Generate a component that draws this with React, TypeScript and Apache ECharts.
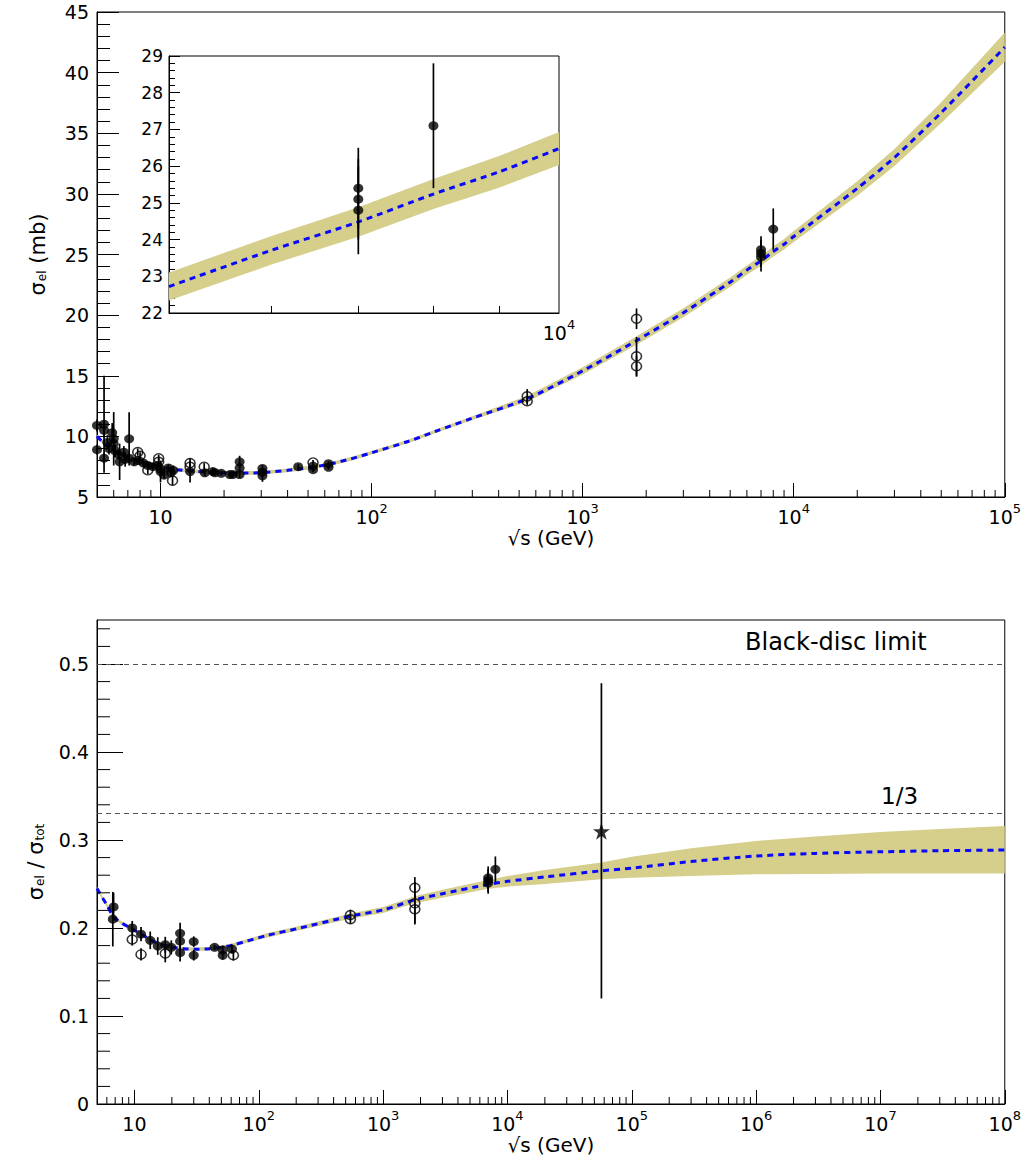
import React, { useEffect, useRef } from "react";
import * as echarts from "echarts";

// ---------------- Top panel: sigma_el (mb) vs sqrt(s) (GeV) ----------------
const fitSqrtS = [5, 5.5, 6, 7, 8, 10, 12, 15, 20, 25, 30, 40, 50, 63, 80, 100, 150, 200, 300, 546, 1000, 1800, 3000, 5000, 6000, 7000, 8000, 9000, 10000, 20000, 30000, 50000, 100000];
const fitSigma = [10.0, 9.3, 8.8, 8.3, 7.95, 7.5, 7.25, 7.1, 7.0, 6.98, 7.0, 7.2, 7.4, 7.7, 8.15, 8.65, 9.6, 10.4, 11.5, 13.1, 15.4, 17.9, 20.2, 22.72, 23.71, 24.48, 25.24, 25.85, 26.48, 30.45, 33.0, 36.7, 42.1];
const fitSigmaLow = [9.85, 9.15, 8.65, 8.15, 7.8, 7.35, 7.1, 6.95, 6.85, 6.83, 6.85, 7.05, 7.25, 7.55, 8.0, 8.5, 9.45, 10.25, 11.35, 12.85, 15.1, 17.55, 19.83, 22.34, 23.32, 24.08, 24.83, 25.42, 26.03, 29.85, 32.3, 35.85, 40.9];
const fitSigmaHigh = [10.15, 9.45, 8.95, 8.45, 8.1, 7.65, 7.4, 7.25, 7.15, 7.13, 7.15, 7.35, 7.55, 7.85, 8.3, 8.8, 9.75, 10.55, 11.65, 13.35, 15.7, 18.25, 20.57, 23.1, 24.1, 24.88, 25.65, 26.28, 26.93, 31.05, 33.7, 37.55, 43.3];

// filled markers (pp)
const topFullS = [5.0, 5.0, 5.4, 5.4, 5.4, 5.6, 5.7, 5.9, 6.0, 6.0, 6.1, 6.3, 6.4, 6.7, 6.8, 7.1, 7.1, 7.5, 7.9, 8.3, 8.7, 9.2, 9.7, 10.0, 10.0, 10.4, 10.9, 11.2, 11.5, 13.8, 16.2, 17.7, 18.1, 19.4, 21.3, 22.0, 23.7, 23.7, 23.7, 30.4, 30.4, 30.4, 44.9, 52.8, 52.8, 62.5, 62.5, 7000, 7000, 7000, 8000];
const topFullSigma = [10.9, 8.9, 11.0, 10.5, 8.2, 9.5, 9.0, 10.3, 9.8, 9.4, 8.8, 8.5, 7.9, 8.7, 8.1, 9.8, 8.2, 7.9, 8.0, 7.8, 7.6, 7.5, 7.6, 7.3, 7.1, 6.8, 7.4, 7.0, 7.2, 7.1, 7.0, 7.1, 7.0, 6.95, 6.85, 6.85, 7.9, 7.4, 6.85, 7.35, 7.05, 6.75, 7.5, 7.55, 7.25, 7.75, 7.45, 25.4, 25.1, 24.8, 27.1];
const topFullErr = [0.5, 0.4, 4.0, 0.6, 0.4, 0.6, 0.5, 0.8, 2.2, 0.5, 0.5, 0.4, 1.5, 0.5, 0.6, 2.2, 0.4, 0.3, 0.3, 0.3, 0.3, 0.3, 0.3, 0.3, 0.9, 0.3, 0.3, 0.3, 0.4, 0.9, 0.3, 0.3, 0.25, 0.2, 0.2, 0.2, 0.5, 0.4, 0.3, 0.3, 0.3, 0.5, 0.2, 0.2, 0.2, 0.2, 0.2, 1.1, 1.1, 1.2, 1.7];
// open markers
const topOpenS = [7.8, 8.0, 8.7, 9.8, 9.8, 11.4, 13.8, 13.8, 16.1, 52.8, 546, 546, 1800, 1800, 1800];
const topOpenSigma = [8.7, 8.4, 7.2, 8.2, 7.9, 6.35, 7.8, 7.5, 7.5, 7.85, 13.3, 12.9, 19.7, 16.6, 15.79];
const topOpenErr = [0.3, 0.3, 0.3, 0.3, 0.3, 0.4, 0.4, 0.3, 0.3, 0.2, 0.6, 0.3, 0.85, 1.6, 0.87];

const topMajorTicks = [10, 100, 1000, 10000, 100000];
const insetMinorTicks = [6000, 7000, 8000, 9000];
const insetMajorTicks = [10000];

// ---------------- Bottom panel: sigma_el / sigma_tot ----------------
const ratioSqrtS = [5, 6, 6.5, 7, 8, 9.4, 10, 12, 13.4, 15, 18.8, 25, 30, 40, 50, 63, 120, 200, 546, 1000, 1800, 3000, 7000, 10000, 20000, 57000, 100000, 300000, 1e6, 3e6, 1e7, 3e7, 1e8];
const ratioFit = [0.245, 0.226, 0.217, 0.211, 0.205, 0.1997, 0.1975, 0.191, 0.1864, 0.1835, 0.1788, 0.1765, 0.1758, 0.1765, 0.178, 0.181, 0.192, 0.199, 0.2135, 0.2205, 0.232, 0.239, 0.2495, 0.253, 0.258, 0.265, 0.268, 0.2755, 0.2818, 0.2848, 0.2866, 0.2878, 0.2886];
const ratioLow = [0.243, 0.224, 0.215, 0.209, 0.203, 0.1977, 0.1955, 0.189, 0.1844, 0.1815, 0.1768, 0.1745, 0.1738, 0.1745, 0.176, 0.179, 0.1895, 0.1965, 0.2105, 0.217, 0.228, 0.2345, 0.2445, 0.247, 0.250, 0.2555, 0.257, 0.259, 0.261, 0.2615, 0.262, 0.262, 0.262];
const ratioHigh = [0.247, 0.228, 0.219, 0.213, 0.207, 0.2017, 0.1995, 0.193, 0.1884, 0.1855, 0.1808, 0.1785, 0.1778, 0.1785, 0.18, 0.183, 0.1945, 0.2015, 0.2165, 0.224, 0.236, 0.2435, 0.2545, 0.259, 0.266, 0.2745, 0.281, 0.2905, 0.299, 0.304, 0.309, 0.3125, 0.316];

const botFullS = [6.8, 6.7, 9.6, 11.3, 13.4, 15.4, 17.7, 19.8, 23.3, 23.3, 23.3, 30.0, 30.0, 44.1, 51.3, 51.3, 60.9, 7000, 7000, 7000, 8000];
const botFullR = [0.224, 0.210, 0.200, 0.193, 0.186, 0.1795, 0.181, 0.178, 0.194, 0.185, 0.172, 0.1845, 0.169, 0.178, 0.175, 0.169, 0.176, 0.257, 0.254, 0.251, 0.2667];
const botFullErr = [0.016, 0.031, 0.008, 0.008, 0.01, 0.01, 0.009, 0.008, 0.012, 0.01, 0.01, 0.006, 0.006, 0.003, 0.005, 0.005, 0.005, 0.013, 0.013, 0.012, 0.0146];
const botOpenS = [9.6, 11.3, 17.7, 62.5, 546, 546, 1800, 1800, 1800];
const botOpenR = [0.187, 0.170, 0.171, 0.169, 0.2148, 0.210, 0.2458, 0.228, 0.2212];
const botOpenErr = [0.007, 0.007, 0.01, 0.006, 0.006, 0.005, 0.012, 0.024, 0.016];
// Auger point (star) with asymmetric errors
const starS = [57000];
const starR = [0.31];
const starErrLow = [0.19];
const starErrHigh = [0.168];

const botMajorTicks = [10, 100, 1000, 10000, 100000, 1e6, 1e7, 1e8];
const botMinorYTicks = [0.02, 0.04, 0.06, 0.08, 0.12, 0.14, 0.16, 0.18, 0.22, 0.24, 0.26, 0.28, 0.32, 0.34, 0.36, 0.38, 0.42, 0.44, 0.46, 0.48, 0.52, 0.54];
const refLines = [0.5, 1 / 3];
const refLabels = ["Black-disc limit", "1/3"];

// ---------------- styling ----------------
const FONT = "'DejaVu Sans', 'Liberation Sans', Arial, sans-serif";
const BAND = "#d5cf8b";
const BLUE = "#0808ff";
const LG = (v: number) => Math.log10(v);

function minorLogTicks(lo: number, hi: number): number[] {
  const out: number[] = [];
  for (let e = 0; e <= 8; e++) {
    for (let k = 2; k <= 9; k++) {
      const v = k * Math.pow(10, e);
      if (v > lo && v < hi) out.push(v);
    }
  }
  return out;
}

const richLabel = {
  b: { fontFamily: FONT, fontSize: 19, color: "#000", verticalAlign: "bottom", lineHeight: 24 },
  sup: { fontFamily: FONT, fontSize: 13, color: "#000", verticalAlign: "top", lineHeight: 24 },
};
const powLabel = (v: number) => {
  const e = Math.round(v);
  return e === 1 ? "{b|10}" : `{b|10}{sup|${e}}`;
};

const errItems = (xs: number[], ys: number[], lo: number[], hi: number[], xmin = 0, xmax = Infinity) =>
  xs
    .map((x, i) => [LG(x), ys[i] - lo[i], ys[i] + hi[i]])
    .filter((d, i) => xs[i] >= xmin && xs[i] <= xmax);

const pts = (xs: number[], ys: number[], xmin = 0, xmax = Infinity) =>
  xs.map((x, i) => [LG(x), ys[i]]).filter((d, i) => xs[i] >= xmin && xs[i] <= xmax);

const errRender = (params: any, api: any) => {
  const x = api.value(0);
  const p1 = api.coord([x, api.value(1)]);
  const p2 = api.coord([x, api.value(2)]);
  return {
    type: "line",
    shape: { x1: p1[0], y1: p1[1], x2: p2[0], y2: p2[1] },
    style: { stroke: "#000", lineWidth: 1.7 },
  };
};

const bandRender = (xs: number[], lo: number[], hi: number[]) => (params: any, api: any) => {
  if (params.dataIndex !== 0) return null;
  const poly: number[][] = [];
  for (let i = 0; i < xs.length; i++) poly.push(api.coord([LG(xs[i]), hi[i]]));
  for (let i = xs.length - 1; i >= 0; i--) poly.push(api.coord([LG(xs[i]), lo[i]]));
  return {
    type: "polygon",
    shape: { points: poly },
    style: { fill: BAND, stroke: "none" },
  };
};

// minor tick marks drawn through the axes' own scales
const tickRender = (dir: "x" | "y", len: number) => (params: any, api: any) => {
  const p = api.coord([api.value(0), api.value(1)]);
  const shape =
    dir === "x"
      ? { x1: p[0], y1: p[1], x2: p[0], y2: p[1] - len }
      : { x1: p[0], y1: p[1], x2: p[0] + len, y2: p[1] };
  return { type: "line", shape, style: { stroke: "#000", lineWidth: 1 } };
};

function filterRange(xs: number[], arrs: number[][], a: number, b: number) {
  const idx = xs.map((x, i) => i).filter((i) => xs[i] >= a && xs[i] <= b);
  return [idx.map((i) => xs[i]), ...arrs.map((arr) => idx.map((i) => arr[i]))];
}

function buildOption() {
  const black = { color: "#000" };
  const axisLine = { show: true, onZero: false, lineStyle: { color: "#000", width: 1 } };
  const noSplit = { show: false };

  const [inS, inFit, inLow, inHigh] = filterRange(fitSqrtS, [fitSigma, fitSigmaLow, fitSigmaHigh], 5000, 10000);

  const xMajor = (grid: number, min: number, max: number, ticks: number[], extra: any = {}) => ({
    type: "value",
    gridIndex: grid,
    position: "bottom",
    min: LG(min),
    max: LG(max),
    axisLine,
    splitLine: noSplit,
    axisTick: { show: true, inside: true, length: 14, customValues: ticks.map(LG), lineStyle: { color: "#000", width: 1 } },
    axisLabel: { show: true, customValues: ticks.map(LG), formatter: powLabel, rich: richLabel, margin: 5, color: "#000" },
    ...extra,
  });

  const xTitle = {
    name: "√s (GeV)",
    nameLocation: "middle",
    nameGap: 31,
    nameTextStyle: { fontFamily: FONT, fontSize: 20, color: "#000" },
  };
  const yRich = {
    a: { fontFamily: FONT, fontSize: 21, color: "#000", verticalAlign: "middle" },
    s: { fontFamily: FONT, fontSize: 12, color: "#000", verticalAlign: "bottom", padding: [0, 0, 0, 1] },
  };

  const option: any = {
    animation: false,
    backgroundColor: "#fff",
    textStyle: { fontFamily: FONT },
    grid: [
      { left: 97, top: 12, width: 908, height: 485, show: true, borderColor: "#000", borderWidth: 1, backgroundColor: "transparent" },
      { left: 169, top: 56, width: 390, height: 257, show: true, borderColor: "#000", borderWidth: 1, backgroundColor: "#fff" },
      { left: 97, top: 620, width: 908, height: 484, show: true, borderColor: "#000", borderWidth: 1, backgroundColor: "transparent" },
    ],
    xAxis: [
      xMajor(0, 5, 1e5, topMajorTicks, xTitle),
      {
        type: "value",
        gridIndex: 1,
        position: "bottom",
        min: LG(5000),
        max: LG(10000),
        axisLine,
        splitLine: noSplit,
        axisTick: { show: true, inside: true, length: 7, customValues: insetMinorTicks.map(LG), lineStyle: { color: "#000" } },
        axisLabel: { show: true, customValues: insetMajorTicks.map(LG), formatter: powLabel, rich: richLabel, margin: 5 },
      },
      xMajor(2, 5, 1e8, botMajorTicks, xTitle),
    ],
    yAxis: [
      {
        type: "value",
        gridIndex: 0,
        position: "left",
        min: 5,
        max: 45,
        interval: 5,
        axisLine,
        splitLine: noSplit,
        axisTick: { show: true, inside: true, length: 22, lineStyle: black },
        minorTick: { show: true, splitNumber: 5, length: 13, lineStyle: black },
        minorSplitLine: { show: false },
        axisLabel: { fontFamily: FONT, fontSize: 19, color: "#000", margin: 8 },
        name: "{a|σ}{s|el}{a| (mb)}",
        nameLocation: "middle",
        nameRotate: 90,
        nameGap: 49,
        nameTextStyle: { rich: yRich },
      },
      {
        type: "value",
        gridIndex: 1,
        position: "left",
        min: 22,
        max: 29,
        interval: 1,
        axisLine,
        splitLine: noSplit,
        axisTick: { show: true, inside: true, length: 11, lineStyle: black },
        minorTick: { show: true, splitNumber: 5, length: 6, lineStyle: black },
        axisLabel: { fontFamily: FONT, fontSize: 17, color: "#000", margin: 6 },
      },
      {
        type: "value",
        gridIndex: 2,
        position: "left",
        min: 0,
        max: 0.55,
        interval: 0.1,
        axisLine,
        splitLine: noSplit,
        axisTick: { show: true, inside: true, length: 26, lineStyle: black },
        axisLabel: { fontFamily: FONT, fontSize: 19, color: "#000", margin: 8, showMaxLabel: false },
        name: "{a|σ}{s|el}{a| / σ}{s|tot}",
        nameLocation: "middle",
        nameRotate: 90,
        nameGap: 51,
        nameTextStyle: { rich: yRich },
      },
    ],
    series: [] as any[],
  };

  const S = option.series;
  const addPanel = (xi: number, yi: number, fx: number[], fy: number[], flo: number[], fhi: number[], extra: any = {}) => {
    S.push({
      type: "custom",
      xAxisIndex: xi,
      yAxisIndex: yi,
      renderItem: bandRender(fx, flo, fhi),
      data: [[LG(fx[0]), fy[0]]],
      encode: { x: 0, y: 1 },
      z: 1,
      silent: true,
    });
    S.push({
      type: "line",
      xAxisIndex: xi,
      yAxisIndex: yi,
      data: fx.map((x, i) => [LG(x), fy[i]]),
      showSymbol: false,
      symbol: "none",
      smooth: 0.25,
      lineStyle: { color: BLUE, width: 3, type: [6, 5] },
      z: 2,
      silent: true,
      ...extra,
    });
  };
  const addPoints = (
    xi: number,
    yi: number,
    fS: number[], fY: number[], fE: number[],
    oS: number[], oY: number[], oE: number[],
    xmin = 0, xmax = Infinity
  ) => {
    S.push({
      type: "custom",
      xAxisIndex: xi,
      yAxisIndex: yi,
      renderItem: errRender,
      data: [...errItems(fS, fY, fE, fE, xmin, xmax), ...errItems(oS, oY, oE, oE, xmin, xmax)],
      encode: { x: 0, y: [1, 2] },
      z: 3,
      silent: true,
    });
    S.push({
      type: "scatter",
      xAxisIndex: xi,
      yAxisIndex: yi,
      data: pts(fS, fY, xmin, xmax),
      symbol: "circle",
      symbolSize: [10, 9],
      itemStyle: { color: "#000" },
      z: 4,
      silent: true,
    });
    if (oS.length) {
      S.push({
        type: "scatter",
        xAxisIndex: xi,
        yAxisIndex: yi,
        data: pts(oS, oY, xmin, xmax),
        symbol: "circle",
        symbolSize: [10, 9],
        itemStyle: { color: "rgba(255,255,255,0)", borderColor: "#000", borderWidth: 1.5 },
        z: 4,
        silent: true,
      });
    }
  };
  const addTicks = (xi: number, yi: number, data: number[][], dir: "x" | "y", len: number) => {
    S.push({
      type: "custom",
      xAxisIndex: xi,
      yAxisIndex: yi,
      renderItem: tickRender(dir, len),
      data,
      encode: { x: 0, y: 1 },
      z: 6,
      silent: true,
    });
  };

  // Top main panel
  addPanel(0, 0, fitSqrtS, fitSigma, fitSigmaLow, fitSigmaHigh);
  addPoints(0, 0, topFullS, topFullSigma, topFullErr, topOpenS, topOpenSigma, topOpenErr);
  addTicks(0, 0, minorLogTicks(5, 1e5).map((v) => [LG(v), 5]), "x", 7);
  // Inset
  addPanel(1, 1, inS, inFit, inLow, inHigh);
  addPoints(1, 1, topFullS, topFullSigma, topFullErr, [], [], [], 5000, 10000);
  // Bottom panel
  addPanel(2, 2, ratioSqrtS, ratioFit, ratioLow, ratioHigh, {
    markLine: {
      silent: true,
      symbol: "none",
      label: { show: false },
      lineStyle: { color: "#555", width: 1, type: [5, 4] },
      data: refLines.map((v) => ({ yAxis: v })),
    },
  });
  addPoints(2, 2, botFullS, botFullR, botFullErr, botOpenS, botOpenR, botOpenErr);
  addTicks(2, 2, minorLogTicks(5, 1e8).map((v) => [LG(v), 0]), "x", 7);
  addTicks(2, 2, botMinorYTicks.map((v) => [LG(5), v]), "y", 13);
  S.push({
    type: "custom",
    xAxisIndex: 2,
    yAxisIndex: 2,
    renderItem: errRender,
    data: errItems(starS, starR, starErrLow, starErrHigh),
    encode: { x: 0, y: [1, 2] },
    z: 3,
    silent: true,
  });
  S.push({
    type: "scatter",
    xAxisIndex: 2,
    yAxisIndex: 2,
    data: pts(starS, starR),
    symbol: "path://M50,0 L61.8,35.5 L99,35.5 L69,57.5 L80.5,93 L50,71 L19.5,93 L31,57.5 L1,35.5 L38.2,35.5 Z",
    symbolSize: 17,
    itemStyle: { color: "#000" },
    z: 5,
    silent: true,
  });

  option.graphic = [
    { type: "text", left: 745, top: 630, style: { text: refLabels[0], fontFamily: FONT, fontSize: 24, fill: "#000" } },
    { type: "text", left: 881, top: 784, style: { text: refLabels[1], fontFamily: FONT, fontSize: 23, fill: "#000" } },
  ];
  return option;
}

export default function App() {
  const ref = useRef<HTMLDivElement>(null);
  useEffect(() => {
    if (!ref.current) return;
    const chart = echarts.init(ref.current, null, { renderer: "svg" });
    chart.setOption(buildOption());
    return () => chart.dispose();
  }, []);
  return (
    <div
      ref={ref}
      style={{ position: "absolute", left: 0, top: 0, width: 1024, height: 1160, background: "#fff" }}
    />
  );
}
